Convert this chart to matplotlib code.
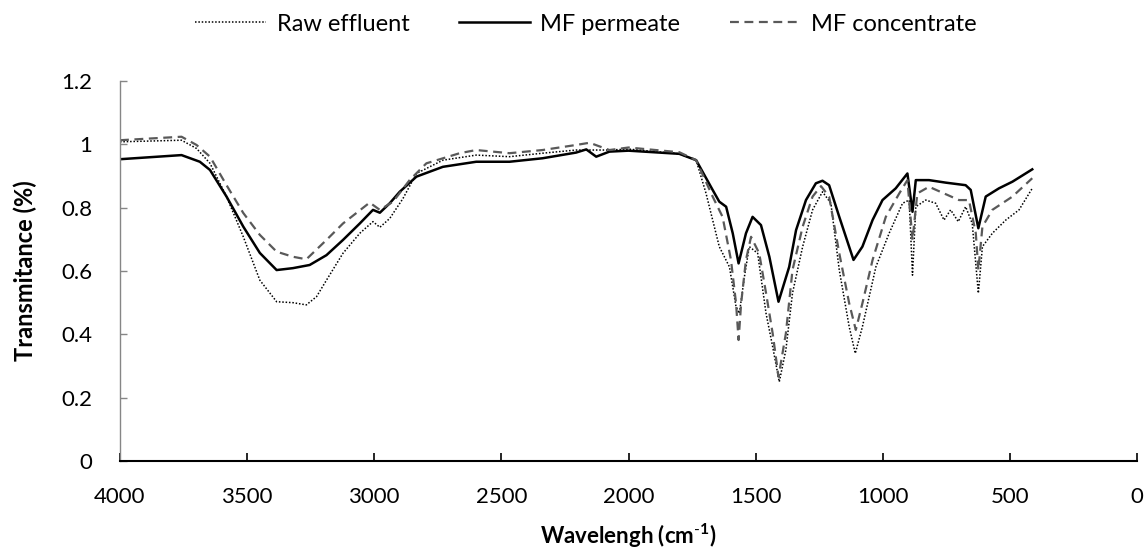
import matplotlib
matplotlib.use("Agg")
import matplotlib.pyplot as plt

# --- data (wavenumber cm^-1, transmittance) ---
raw_x = [4000, 3758, 3699, 3646, 3581, 3515, 3450, 3384, 3320, 3267, 3227, 3188, 3123, 3057, 3005, 2978, 2939, 2887, 2834, 2730, 2599, 2468, 2338, 2206, 2075, 2000, 1800, 1734,
         1695, 1643, 1603, 1577, 1564, 1544, 1525, 1492, 1459, 1433, 1407, 1381, 1355, 1315, 1276, 1237, 1204, 1171, 1132, 1108, 1080, 1027, 975, 922, 896, 883, 870, 831, 792, 759, 733, 703, 674, 648, 624, 608, 569, 516, 464, 412]
raw_y = [1.008, 1.013, 0.987, 0.940, 0.835, 0.708, 0.571, 0.503, 0.500, 0.493, 0.519, 0.571, 0.656, 0.719, 0.756, 0.738, 0.766, 0.829, 0.908, 0.950, 0.966, 0.961, 0.972, 0.982, 0.982, 0.985, 0.970, 0.950,
         0.845, 0.677, 0.613, 0.487, 0.466, 0.582, 0.677, 0.656, 0.466, 0.361, 0.250, 0.351, 0.530, 0.677, 0.793, 0.850, 0.814, 0.603, 0.424, 0.340, 0.424, 0.613, 0.719, 0.814, 0.824, 0.587, 0.803, 0.824, 0.814, 0.761, 0.793, 0.756, 0.803, 0.750, 0.530, 0.677, 0.719, 0.761, 0.793, 0.861]

perm_x = [4000, 3758, 3686, 3646, 3581, 3515, 3450, 3384, 3320, 3254, 3188, 3123, 3057, 3005, 2978, 2939, 2900, 2834, 2730, 2599, 2468, 2338, 2206, 2166, 2127, 2075, 2000, 1800, 1734,
          1669, 1643, 1616, 1590, 1567, 1538, 1512, 1479, 1446, 1410, 1368, 1341, 1302, 1263, 1237, 1211, 1171, 1115, 1080, 1040, 1001, 949, 903, 883, 870, 818, 752, 674, 654, 624, 595, 543, 490, 412]
perm_y = [0.953, 0.966, 0.945, 0.919, 0.835, 0.740, 0.657, 0.603, 0.609, 0.619, 0.650, 0.698, 0.750, 0.793, 0.784, 0.814, 0.850, 0.898, 0.929, 0.945, 0.945, 0.956, 0.974, 0.984, 0.961, 0.977, 0.980, 0.970, 0.950,
          0.856, 0.819, 0.803, 0.719, 0.624, 0.719, 0.771, 0.745, 0.645, 0.503, 0.613, 0.729, 0.824, 0.877, 0.885, 0.871, 0.771, 0.635, 0.677, 0.761, 0.824, 0.861, 0.908, 0.787, 0.887, 0.887, 0.879, 0.871, 0.856, 0.735, 0.835, 0.861, 0.882, 0.921]

conc_x = [4000, 3758, 3699, 3646, 3581, 3515, 3450, 3384, 3320, 3267, 3188, 3123, 3018, 2978, 2926, 2861, 2795, 2664, 2599, 2468, 2338, 2206, 2153, 2075, 2000, 1800, 1734,
          1669, 1630, 1597, 1577, 1567, 1557, 1538, 1518, 1486, 1459, 1433, 1410, 1381, 1355, 1315, 1276, 1243, 1211, 1171, 1132, 1106, 1080, 1040, 988, 935, 903, 883, 864, 818, 759, 700, 661, 634, 624, 608, 569, 490, 412]
conc_y = [1.013, 1.024, 0.998, 0.961, 0.871, 0.783, 0.714, 0.661, 0.645, 0.637, 0.698, 0.750, 0.816, 0.793, 0.819, 0.887, 0.940, 0.972, 0.982, 0.972, 0.982, 0.998, 1.005, 0.982, 0.990, 0.975, 0.950,
          0.835, 0.771, 0.635, 0.498, 0.382, 0.498, 0.635, 0.708, 0.656, 0.530, 0.403, 0.266, 0.403, 0.603, 0.740, 0.835, 0.868, 0.835, 0.656, 0.498, 0.414, 0.498, 0.635, 0.771, 0.845, 0.887, 0.698, 0.845, 0.866, 0.845, 0.824, 0.824, 0.719, 0.603, 0.740, 0.793, 0.835, 0.893]

series_labels = ["Raw effluent", "MF permeate", "MF concentrate"]
x_ticks = [4000, 3500, 3000, 2500, 2000, 1500, 1000, 500, 0]
y_ticks = [0, 0.2, 0.4, 0.6, 0.8, 1.0, 1.2]
y_tick_labels = ['0', '0.2', '0.4', '0.6', '0.8', '1', '1.2']

plt.rcParams['font.family'] = ['Lato', 'DejaVu Sans']
plt.rcParams['mathtext.fontset'] = 'custom'
plt.rcParams['mathtext.rm'] = 'Lato'
plt.rcParams['mathtext.bf'] = 'Lato:bold'

FS = 16

fig = plt.figure(figsize=(11.47, 5.51), dpi=100)
ax = fig.add_axes([120/1147, 1 - 461/551, (1137-120)/1147, (461-81)/551])

ax.plot(raw_x, raw_y, color='black', lw=1.1, linestyle=(0, (1, 1.2)), label=series_labels[0])
ax.plot(perm_x, perm_y, color='black', lw=1.8, linestyle='-', label=series_labels[1])
ax.plot(conc_x, conc_y, color='#595959', lw=1.6, linestyle=(0, (4, 2.5)), label=series_labels[2])

ax.set_xlim(4000, 0)
ax.set_ylim(0, 1.2)
ax.set_xticks(x_ticks)
ax.set_xticklabels([str(t) for t in x_ticks])
ax.set_yticks(y_ticks)
ax.set_yticklabels(y_tick_labels)

for s in ['top', 'right']:
    ax.spines[s].set_visible(False)
ax.spines['left'].set_color('#868686')
ax.spines['left'].set_linewidth(1.0)
ax.spines['bottom'].set_color('black')
ax.spines['bottom'].set_linewidth(1.5)

ax.tick_params(axis='x', direction='in', length=6, width=1.2, colors='black', labelsize=FS, pad=19)
ax.tick_params(axis='y', direction='in', length=5, width=1.0, color='#868686', labelcolor='black', labelsize=FS, pad=20)

ax.set_xlabel('Wavelengh (cm$^{\\mathbf{\\text{-}1}}$)', fontsize=FS, fontweight='bold', labelpad=10)
ax.set_ylabel('Transmitance (%)', fontsize=17, fontweight='bold', labelpad=17)

fig.legend(loc='upper center', bbox_to_anchor=(0.511, 1.014), ncol=3, frameon=False, fontsize=17,
           handlelength=3.0, columnspacing=2.1, handletextpad=0.45)

fig.savefig('out.png', dpi=100)
